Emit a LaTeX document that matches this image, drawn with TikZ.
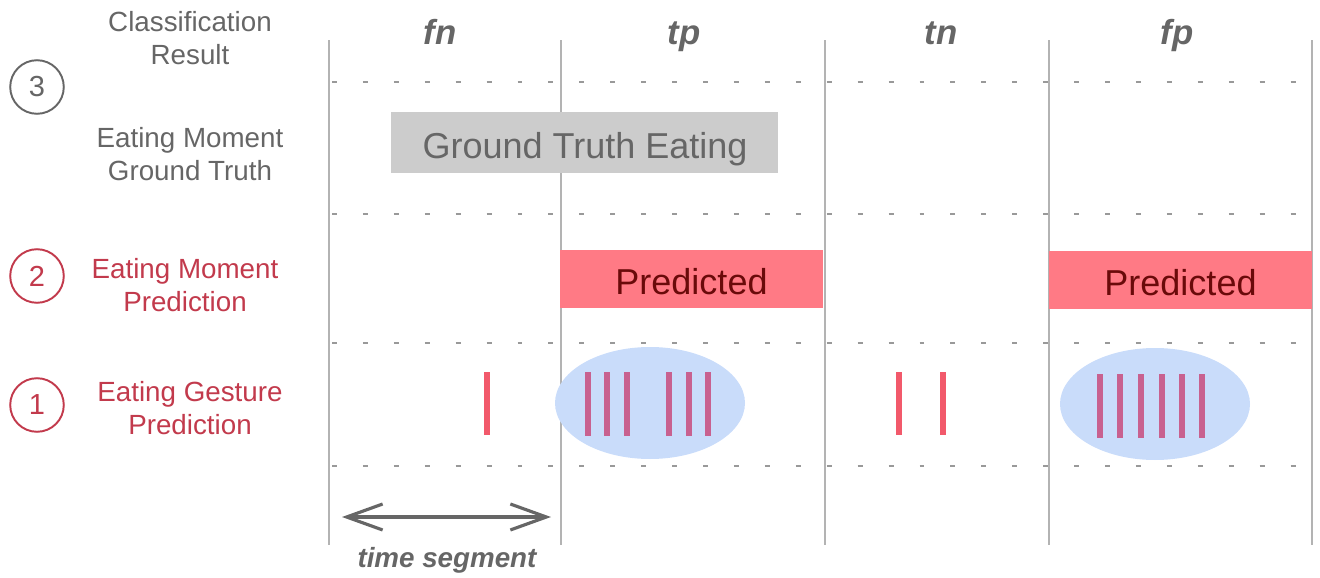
\documentclass[tikz,border=0pt]{standalone}
\usepackage{fontspec}
\setmainfont{Liberation Sans}
\usetikzlibrary{arrows.meta,shapes.geometric}
\definecolor{txtgray}{HTML}{666666}
\definecolor{linegray}{HTML}{B3B3B3}
\definecolor{dashgray}{HTML}{999999}
\definecolor{labred}{HTML}{C23A4C}
\definecolor{predfill}{HTML}{FF7A85}
\definecolor{predtxt}{HTML}{6A0A0A}
\definecolor{gtfill}{HTML}{CCCCCC}
\definecolor{ellfill}{HTML}{C9DCFA}
\definecolor{barred}{HTML}{F2596B}
\definecolor{barpurple}{HTML}{C8618F}
\tikzset{
  x=0.02cm, y=-0.02cm,
  seg/.style={draw=linegray, line width=1.2pt},
  rowsep/.style={draw=dashgray, line width=1.7pt, dash pattern=on 2.8pt off 14.8pt},
  rowlabel/.style={align=center, font=\fontsize{15.8}{18.7}\selectfont, inner sep=0pt},
  graylabel/.style={rowlabel, text=txtgray},
  redlabel/.style={rowlabel, text=labred},
  numcirc/.style={circle, draw, line width=1.1pt, minimum size=30.5pt, inner sep=0pt, font=\fontsize{16.5}{18}\selectfont},
  result/.style={anchor=base, text=txtgray, font=\fontsize{19.8}{22}\bfseries\itshape\selectfont, inner sep=0pt},
  gtbox/.style={fill=gtfill, minimum width=387*0.02cm, minimum height=61*0.02cm, inner sep=0pt},
  predbox/.style={fill=predfill, minimum width=263*0.02cm, minimum height=58*0.02cm, inner sep=0pt},
  boxtext/.style={anchor=base, inner sep=0pt, font=\fontsize{20.5}{24}\selectfont},
  gesture/.style={ellipse, fill=ellfill, minimum width=190*0.02cm, minimum height=112*0.02cm, inner sep=0pt},
  redbar/.style={draw=barred, line width=3.3pt},
  purplebar/.style={draw=barpurple, line width=3.3pt},
  segarrow/.style={draw=txtgray, line width=1.8pt, {Straight Barb[length=0.72cm, width=0.52cm, line width=1.8pt]}-{Straight Barb[length=0.72cm, width=0.52cm, line width=1.8pt]}},
}
\begin{document}
\begin{tikzpicture}
\useasboundingbox (0,0) rectangle (1320,578);
% vertical segment boundaries
\foreach \xx in {329,561,825,1049,1312} {\draw[seg] (\xx,40) -- (\xx,545);}
% dashed row separators
\foreach \yy in {82,214,343,466} {\draw[rowsep] (332,\yy) -- (1302,\yy);}
% left labels
\node[numcirc, draw=txtgray, text=txtgray] (c3) at (37,87) {3};
\node[numcirc, draw=labred, text=labred] (c2) at (37,276) {2};
\node[numcirc, draw=labred, text=labred] (c1) at (37,405) {1};
\node[graylabel] (lres) at (190,38) {Classification\\Result};
\node[graylabel] (lgt) at (190,154) {Eating Moment\\Ground Truth};
\node[redlabel] (lmom) at (185,285) {Eating Moment\\Prediction};
\node[redlabel] (lges) at (190,408) {Eating Gesture\\Prediction};
% results
\node[result] (rfn) at (440,45) {fn};
\node[result] (rtp) at (684,45) {tp};
\node[result] (rtn) at (941,45) {tn};
\node[result] (rfp) at (1177,45) {fp};
% ground truth
\node[gtbox] (gt) at (584.5,142.5) {};
\node[boxtext, text=txtgray] (gtt) at (585,158) {Ground Truth Eating};
% predictions
\node[predbox] (p1) at (691.5,278.5) {};
\node[boxtext, text=predtxt] (p1t) at (691.5,294) {Predicted};
\node[predbox] (p2) at (1180.5,280) {};
\node[boxtext, text=predtxt] (p2t) at (1180.5,295) {Predicted};
% gesture ellipses
\node[gesture] (e1) at (650,403) {};
\node[gesture] (e2) at (1155,404) {};
% gesture bars
\draw[redbar] (487,372) -- (487,435);
\draw[redbar] (899,372) -- (899,435);
\draw[redbar] (943,372) -- (943,435);
\foreach \xx in {588,607,627,669,689,708} {\draw[purplebar] (\xx,372) -- (\xx,436);}
\foreach \xx in {1100,1120,1141,1162,1182,1202} {\draw[purplebar] (\xx,374) -- (\xx,438);}
% time segment arrow
\coordinate (a1) at (342,517);
\coordinate (a2) at (551,517);
\draw[segarrow] (a1) -- (a2);
\node[anchor=base, text=txtgray, font=\fontsize{15.8}{18}\bfseries\itshape\selectfont, inner sep=0pt] (ts) at (447,567) {time segment};
\end{tikzpicture}
\end{document}
